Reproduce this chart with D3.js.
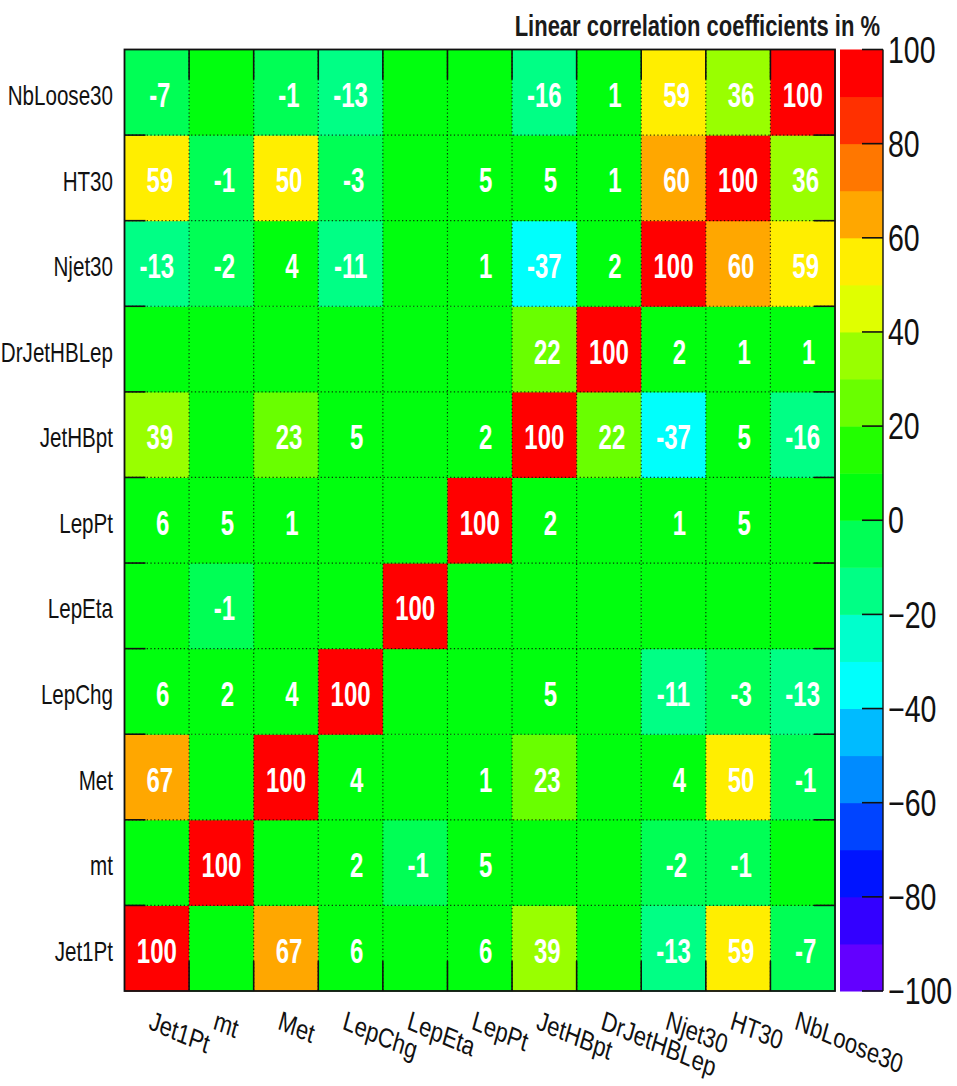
<!DOCTYPE html>
<html>
<head>
<meta charset="utf-8">
<script src="https://cdn.jsdelivr.net/npm/d3@7"></script>
<style>
  html, body { margin: 0; padding: 0; background: #fff; }
  svg { display: block; }
  text { font-family: "Liberation Sans", Arial, Helvetica, sans-serif; }
</style>
</head>
<body>
<div id="chart"></div>
<script>
// Input variables, same order on both axes (x: left→right, y: bottom→top)
const variables = ["Jet1Pt", "mt", "Met", "LepChg", "LepEta", "LepPt",
                   "JetHBpt", "DrJetHBLep", "Njet30", "HT30", "NbLoose30"];

// Linear correlation coefficients in %, row i / column j follow `variables`
const rowJet1Pt     = [100,   0,  67,   6,   0,   6,  39,   0, -13,  59,  -7];
const rowMt         = [  0, 100,   0,   2,  -1,   5,   0,   0,  -2,  -1,   0];
const rowMet        = [ 67,   0, 100,   4,   0,   1,  23,   0,   4,  50,  -1];
const rowLepChg     = [  6,   2,   4, 100,   0,   0,   5,   0, -11,  -3, -13];
const rowLepEta     = [  0,  -1,   0,   0, 100,   0,   0,   0,   0,   0,   0];
const rowLepPt      = [  6,   5,   1,   0,   0, 100,   2,   0,   1,   5,   0];
const rowJetHBpt    = [ 39,   0,  23,   5,   0,   2, 100,  22, -37,   5, -16];
const rowDrJetHBLep = [  0,   0,   0,   0,   0,   0,  22, 100,   2,   1,   1];
const rowNjet30     = [-13,  -2,   4, -11,   0,   1, -37,   2, 100,  60,  59];
const rowHT30       = [ 59,  -1,  50,  -3,   0,   5,   5,   1,  60, 100,  36];
const rowNbLoose30  = [ -7,   0,  -1, -13,   0,   0, -16,   1,  59,  36, 100];

const correlationRows = [rowJet1Pt, rowMt, rowMet, rowLepChg, rowLepEta, rowLepPt,
                         rowJetHBpt, rowDrJetHBLep, rowNjet30, rowHT30, rowNbLoose30];

// Colour-bar tick values
const paletteTicks = [100, 80, 60, 40, 20, 0, -20, -40, -60, -80, -100];
const titleText = "Linear correlation coefficients in %";

const W = 957, H = 1086;
const frame = { left: 124.5, right: 835, top: 49.5, bottom: 991 };
const bar = { left: 840, right: 883 };

const svg = d3.select("#chart").append("svg")
  .attr("width", W).attr("height", H);

// Band scales for the cells
const x = d3.scaleBand().domain(variables).range([frame.left, frame.right]).padding(0);
const y = d3.scaleBand().domain(variables).range([frame.bottom, frame.top]).padding(0);

// 20-level rainbow palette (HLS, hue 280 → 0), one colour per 10 % contour
const nLevels = 20, nPalette = 50;
const levelColours = d3.range(nLevels).map(j => {
  const idx = Math.floor((j + 0.99) * nPalette / nLevels);
  const hue = 280 - (idx + 1) * (280 / nPalette);
  return d3.hsl(hue, 1, 0.5).formatHex();
});
const colour = d3.scaleQuantize().domain([-100, 100]).range(levelColours);

// Flatten the matrix into cells
const cells = [];
correlationRows.forEach((row, i) => {
  row.forEach((v, j) => cells.push({ xv: variables[j], yv: variables[i], value: v }));
});

// Cells
svg.append("g").selectAll("rect").data(cells).join("rect")
  .attr("x", d => x(d.xv))
  .attr("y", d => y(d.yv))
  .attr("width", x.bandwidth() + 0.5)
  .attr("height", y.bandwidth() + 0.5)
  .attr("fill", d => colour(d.value));

// Dotted grid along every cell boundary
const grid = svg.append("g")
  .attr("stroke", "#000").attr("stroke-opacity", 0.75)
  .attr("stroke-width", 1.2).attr("stroke-dasharray", "1.3,2.4");
variables.slice(1).forEach(v => {
  grid.append("line").attr("x1", x(v)).attr("x2", x(v))
    .attr("y1", frame.top).attr("y2", frame.bottom);
  grid.append("line").attr("y1", y(v) + y.bandwidth()).attr("y2", y(v) + y.bandwidth())
    .attr("x1", frame.left).attr("x2", frame.right);
});

// Tick marks at bin edges on all four sides
const ticks = svg.append("g").attr("stroke", "#111").attr("stroke-width", 1.6);
variables.slice(1).forEach(v => {
  const xe = x(v), ye = y(v) + y.bandwidth();
  ticks.append("line").attr("x1", xe).attr("x2", xe).attr("y1", frame.bottom).attr("y2", frame.bottom - 30);
  ticks.append("line").attr("x1", xe).attr("x2", xe).attr("y1", frame.top).attr("y2", frame.top + 30);
  ticks.append("line").attr("y1", ye).attr("y2", ye).attr("x1", frame.left).attr("x2", frame.left + 21);
  ticks.append("line").attr("y1", ye).attr("y2", ye).attr("x1", frame.right).attr("x2", frame.right - 21);
});

// Frame
svg.append("rect")
  .attr("x", frame.left).attr("y", frame.top)
  .attr("width", frame.right - frame.left).attr("height", frame.bottom - frame.top)
  .attr("fill", "none").attr("stroke", "#111").attr("stroke-width", 1.8);

// Cell values
const fmt = v => String(Math.round(v));
svg.append("g").selectAll("text")
  .data(cells.filter(d => Math.round(d.value) !== 0)).join("text")
  .attr("transform", d => {
    const s = fmt(d.value);
    const cx = x(d.xv) + x.bandwidth() / 2 + (3 - s.length) * 3;
    const cy = y(d.yv) + y.bandwidth() / 2 + 2;
    return `translate(${cx},${cy}) scale(1,1.45)`;
  })
  .attr("dy", "0.36em")
  .attr("text-anchor", "middle")
  .attr("font-size", 24).attr("font-weight", "bold")
  .attr("fill", "#fff")
  .text(d => fmt(d.value));

// Y-axis labels
svg.append("g").selectAll("text").data(variables).join("text")
  .attr("transform", d => `translate(113,${y(d) + y.bandwidth() / 2 + 3}) scale(1,1.3)`)
  .attr("dy", "0.36em")
  .attr("text-anchor", "end")
  .attr("font-size", 20.6)
  .attr("fill", "#111")
  .text(d => d);

// X-axis labels, slanted
svg.append("g").selectAll("text").data(variables).join("text")
  .attr("transform", d => `translate(${x(d) + x.bandwidth() / 2 - 4},1010) scale(1,1.24) rotate(19)`)
  .attr("dy", "0.72em")
  .attr("text-anchor", "start")
  .attr("font-size", 22)
  .attr("fill", "#111")
  .text(d => d);

// Colour bar
const z = d3.scaleLinear().domain([-100, 100]).range([frame.bottom, frame.top]);
const levels = d3.range(nLevels).map(j => ({ lo: -100 + j * 10, hi: -100 + (j + 1) * 10, c: levelColours[j] }));
svg.append("g").selectAll("rect").data(levels).join("rect")
  .attr("x", bar.left).attr("width", bar.right - bar.left)
  .attr("y", d => z(d.hi)).attr("height", d => z(d.lo) - z(d.hi) + 0.5)
  .attr("fill", d => d.c);

svg.append("line")
  .attr("x1", bar.right).attr("x2", bar.right)
  .attr("y1", z(-100)).attr("y2", z(100))
  .attr("stroke", "#111").attr("stroke-width", 1.4);

const barTicks = svg.append("g");
barTicks.selectAll("line").data(paletteTicks).join("line")
  .attr("x1", bar.right - 21).attr("x2", bar.right)
  .attr("y1", d => z(d)).attr("y2", d => z(d))
  .attr("stroke", "#111").attr("stroke-width", 1.6);
barTicks.selectAll("text").data(paletteTicks).join("text")
  .attr("transform", d => `translate(888,${z(d)}) scale(1,1.28)`)
  .attr("dy", "0.36em")
  .attr("font-size", 28.5)
  .attr("fill", "#111")
  .text(d => d < 0 ? "\u2212" + Math.abs(d) : String(d));

// Title
svg.append("text")
  .attr("transform", "translate(880,36) scale(1,1.3)")
  .attr("text-anchor", "end")
  .attr("font-size", 22).attr("font-weight", "bold")
  .attr("fill", "#1a1a1a")
  .text(titleText);
</script>
</body>
</html>
